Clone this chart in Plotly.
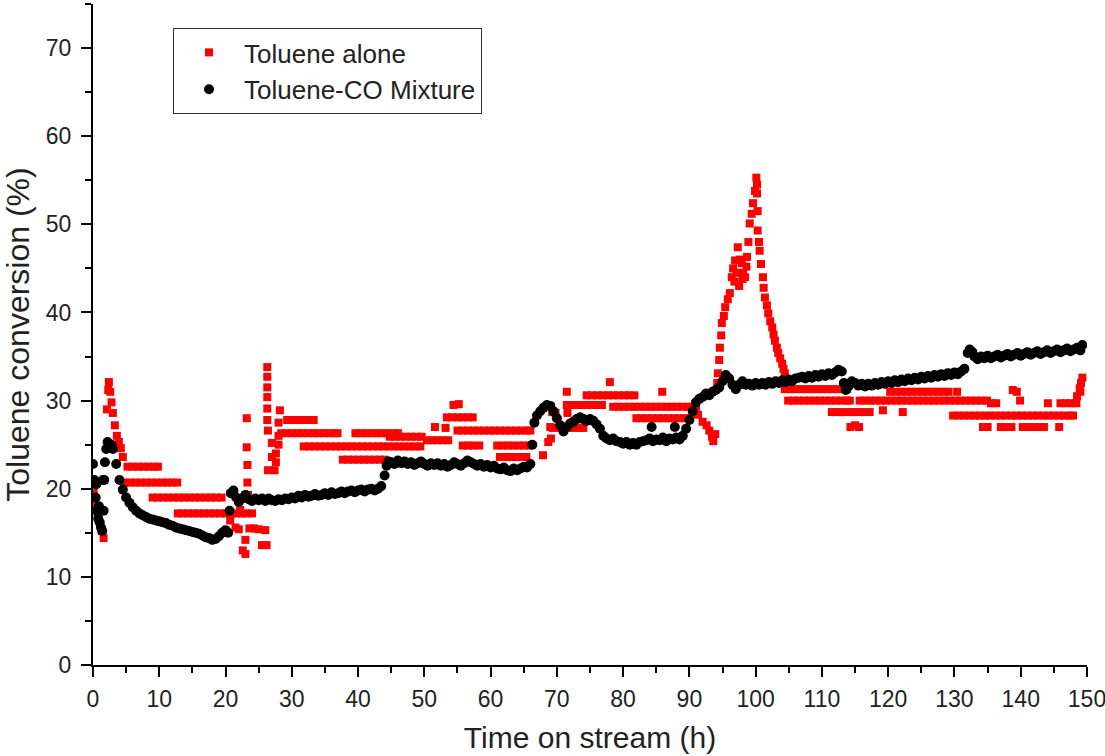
import plotly.graph_objects as go

# ---------------- data ----------------
# Toluene-CO Mixture (black circles)
black_time = [
    0.0, 0.2, 0.4, 0.6, 0.8, 1.0, 1.2, 1.4, 1.6, 1.7,
    1.8, 2.0, 2.2, 2.5, 3.0, 3.5, 4.0, 4.5, 5.0, 5.5,
    6.0, 6.5, 7.0, 7.5, 8.0, 8.5, 9.0, 9.5, 10.0, 10.5,
    11.0, 11.5, 12.0, 12.5, 13.0, 13.5, 14.0, 14.5, 15.0, 15.5,
    16.0, 16.5, 17.0, 17.5, 18.0, 18.5, 19.0, 19.5, 20.0, 20.4,
    20.6, 20.8, 21.2, 21.6, 22.0, 22.5, 23.0, 23.5, 24.0, 24.5,
    25.0, 25.5, 26.0, 26.5, 27.0, 27.5, 28.0, 28.5, 29.0, 29.5,
    30.0, 30.5, 31.0, 31.5, 32.0, 32.5, 33.0, 33.5, 34.0, 34.5,
    35.0, 35.5, 36.0, 36.5, 37.0, 37.5, 38.0, 38.5, 39.0, 39.5,
    40.0, 40.5, 41.0, 41.5, 42.0, 42.5, 43.0, 43.5, 44.0, 44.3,
    44.6, 45.0, 45.5, 46.0, 46.5, 47.0, 47.5, 48.0, 48.5, 49.0,
    49.5, 50.0, 50.5, 51.0, 51.5, 52.0, 52.5, 53.0, 53.5, 54.0,
    54.5, 55.0, 55.5, 56.0, 56.5, 57.0, 57.5, 58.0, 58.5, 59.0,
    59.5, 60.0, 60.5, 61.0, 61.5, 62.0, 62.5, 63.0, 63.5, 64.0,
    64.5, 65.0, 65.5, 66.0, 66.3, 66.6, 67.0, 67.5, 68.0, 68.5,
    69.0, 69.5, 70.0, 70.5, 71.0, 71.5, 72.0, 72.5, 73.0, 73.5,
    74.0, 74.5, 75.0, 75.5, 76.0, 76.5, 77.0, 77.5, 78.0, 78.5,
    79.0, 79.5, 80.0, 80.5, 81.0, 81.5, 82.0, 82.5, 83.0, 83.5,
    84.0, 84.5, 85.0, 85.5, 86.0, 86.5, 87.0, 87.5, 88.0, 88.5,
    89.0, 89.5, 90.0, 90.5, 91.0, 91.5, 92.0, 92.5, 93.0, 93.5,
    94.0, 94.5, 95.0, 95.5, 96.0, 96.5, 97.0, 97.5, 98.0, 98.5,
    99.0, 99.5, 100.0, 100.5, 101.0, 101.5, 102.0, 102.5, 103.0, 103.5,
    104.0, 104.5, 105.0, 105.5, 106.0, 106.5, 107.0, 107.5, 108.0, 108.5,
    109.0, 109.5, 110.0, 110.5, 111.0, 111.5, 112.0, 112.5, 113.0, 113.3,
    113.6, 114.0, 114.5, 115.0, 115.5, 116.0, 116.5, 117.0, 117.5, 118.0,
    118.5, 119.0, 119.5, 120.0, 120.5, 121.0, 121.5, 122.0, 122.5, 123.0,
    123.5, 124.0, 124.5, 125.0, 125.5, 126.0, 126.5, 127.0, 127.5, 128.0,
    128.5, 129.0, 129.5, 130.0, 130.5, 131.0, 131.5, 132.0, 132.3, 132.7,
    133.0, 133.5, 134.0, 134.5, 135.0, 135.5, 136.0, 136.5, 137.0, 137.5,
    138.0, 138.5, 139.0, 139.5, 140.0, 140.5, 141.0, 141.5, 142.0, 142.5,
    143.0, 143.5, 144.0, 144.5, 145.0, 145.5, 146.0, 146.5, 147.0, 147.5,
    148.0, 148.5, 149.0, 149.3, 84.3, 87.8, 1.5, 0.9, 0.5, 2.8,
]
black_conv = [
    22.8, 21.0, 19.0, 17.5, 16.6, 16.2, 15.6, 15.2, 17.5, 21.0,
    23.0, 24.5, 25.3, 25.0, 24.5, 22.8, 21.0, 19.9, 19.0, 18.4,
    17.9, 17.5, 17.2, 17.0, 16.8, 16.6, 16.5, 16.4, 16.3, 16.2,
    16.1, 15.9, 15.8, 15.6, 15.5, 15.4, 15.3, 15.2, 15.1, 15.0,
    14.9, 14.7, 14.5, 14.4, 14.2, 14.3, 14.6, 15.0, 15.3, 15.0,
    17.5, 19.5, 19.8, 19.0, 18.5, 18.9, 19.3, 18.8, 18.6, 18.9,
    18.7, 18.9, 18.6, 18.9, 18.7, 18.6, 18.8, 18.7, 18.9, 18.8,
    19.0, 18.9, 19.2, 19.0, 19.3, 19.1, 19.2, 19.4, 19.2, 19.3,
    19.5, 19.3, 19.6, 19.4, 19.5, 19.7, 19.5, 19.7, 19.8, 19.6,
    19.8, 19.9, 19.7, 19.9, 20.0, 19.8, 20.0, 20.3, 21.5, 22.6,
    23.1, 23.0, 22.8, 23.2, 22.9, 23.1, 22.8, 23.0, 22.7, 22.9,
    23.1, 22.8, 22.6, 22.9, 22.7, 22.9, 22.6, 22.8, 22.5, 22.7,
    23.0, 22.8, 22.6, 22.9, 23.2, 23.0, 22.8, 22.6, 22.8, 22.5,
    22.7, 22.4, 22.6, 22.3, 22.2, 22.4, 22.1, 22.0, 22.3, 22.1,
    22.3, 22.5, 22.4, 22.8, 25.0, 27.5, 28.3, 28.8, 29.2, 29.5,
    29.4, 28.8, 28.0, 27.2, 26.5, 27.0, 27.4, 27.6, 27.9, 28.1,
    27.9, 27.7, 27.9, 27.7, 27.3, 26.8, 26.0, 25.7, 25.5, 25.7,
    25.4, 25.3, 25.1, 25.3, 25.0, 25.2, 25.0, 25.3, 25.4, 25.5,
    25.7, 25.4, 25.6, 25.5, 25.8, 25.4, 25.7, 25.6, 25.8, 25.6,
    26.0, 26.8, 27.8, 28.8, 29.8, 30.2, 30.4, 30.8, 30.6, 31.0,
    31.2, 31.5, 32.2, 32.9, 32.5, 31.8, 31.3, 31.8, 32.2, 31.8,
    31.9, 31.7, 32.0, 31.8, 32.0, 31.8, 32.1, 31.9, 32.2, 32.0,
    32.3, 32.1, 32.4, 32.2, 32.5, 32.6, 32.7, 32.5, 32.8, 32.6,
    32.9, 32.7, 33.0, 32.8, 33.1, 32.9, 33.2, 33.5, 33.3, 32.0,
    31.2, 31.6, 32.2, 32.0, 31.7, 31.9, 31.6, 31.9, 31.7, 32.0,
    31.8, 32.1, 31.9, 32.2, 32.0, 32.3, 32.1, 32.4, 32.2, 32.5,
    32.3, 32.6, 32.4, 32.7, 32.5, 32.8, 32.6, 32.9, 32.7, 33.0,
    32.8, 33.1, 32.9, 33.2, 33.0, 33.3, 33.6, 35.4, 35.8, 35.5,
    35.0, 34.7, 35.0, 34.8, 35.1, 34.8, 35.0, 35.2, 34.9, 35.1,
    35.3, 35.0, 35.2, 35.4, 35.1, 35.3, 35.5, 35.2, 35.4, 35.6,
    35.3, 35.5, 35.7, 35.4, 35.6, 35.8, 35.5, 35.7, 35.9, 35.6,
    35.8, 36.0, 35.7, 36.3, 27.0, 27.0, 21.0, 18.0, 20.5, 25.0,
]

# Toluene alone (red squares)
red_time = [
    0.1, 0.3, 0.5, 0.7, 0.9, 1.1, 1.3, 1.6,
    2.1, 2.3, 2.4, 2.6, 2.8, 3.0, 3.3, 3.6, 3.9, 4.2, 4.5,
    5.2, 6.0, 6.8, 7.6, 8.4, 9.2, 9.8,
    4.8, 5.6, 6.4, 7.2, 8.0, 8.8, 9.6, 10.4, 11.2, 12.0, 12.7,
    9.0, 9.8, 10.6, 11.4, 12.2, 13.0, 13.8, 14.6, 15.4, 16.2, 17.0, 17.8, 18.6, 19.4,
    12.8, 13.6, 14.4, 15.2, 16.0, 16.8, 17.6, 18.4, 19.2, 20.0, 20.8, 21.6, 22.4, 23.2, 24.0,
    20.7, 21.5, 22.0, 22.2, 22.6, 23.0, 23.0, 23.2, 23.2, 23.3, 23.3, 23.4, 23.6, 24.3, 25.0, 25.5, 26.2, 26.0,
    26.3, 26.3, 26.3, 26.3, 26.3, 26.3, 26.4, 26.4, 27.0, 27.0, 27.6, 27.6, 27.4, 28.0, 28.0, 28.0, 28.2,
    29.3, 30.1, 30.9, 31.7, 32.5, 33.3,
    28.4, 29.2, 30.0, 30.8, 31.6, 32.4, 33.2, 34.0, 34.8, 35.6, 36.4, 36.9,
    39.6, 40.4, 41.2, 42.0, 42.8, 43.6, 44.4, 45.2, 46.0,
    31.8, 32.6, 33.4, 34.2, 35.0, 35.8, 36.6, 37.4, 38.2, 39.0, 39.8, 40.6,
    41.4, 42.2, 43.0, 43.8, 44.6, 45.4, 46.2, 47.0, 47.8, 48.6, 49.4,
    37.7, 38.5, 39.3, 40.1, 40.9, 41.7, 42.5, 43.3, 44.0,
    44.8, 45.6, 46.4, 47.2, 48.0, 48.8, 49.6,
    50.4, 51.2, 52.0, 52.8, 53.6, 51.6, 53.2,
    53.4, 54.2, 55.0, 55.8, 56.6, 57.3, 54.4, 55.2,
    55.0, 55.8, 56.6, 57.4, 58.2, 59.0, 59.8, 60.6, 61.4, 62.2, 63.0, 63.8, 64.6, 65.4, 66.0,
    55.8, 56.6, 57.4, 58.3, 61.0, 61.8, 62.6, 63.4, 64.2, 65.0, 65.8,
    61.4, 62.2, 63.0, 63.8, 64.6, 65.4,
    67.9, 68.7, 69.0, 69.3, 69.8, 71.5, 71.5, 71.6, 69.1,
    69.4, 70.2, 71.0, 71.8, 72.6, 73.4, 74.0,
    72.0, 72.8, 73.6, 74.4, 75.2, 76.0, 76.8,
    74.5, 75.3, 76.1, 76.9, 77.7, 78.5, 79.3, 80.1, 80.9, 81.7, 78.0,
    78.5, 79.3, 80.1, 80.9, 81.7, 82.5, 83.3, 84.1, 84.9, 85.7, 86.5, 87.3, 88.1, 88.9, 89.7, 90.5, 91.0,
    82.0, 82.8, 83.6, 84.4, 85.2, 86.0, 86.8, 87.6, 88.4, 89.2, 90.0, 85.9,
    90.5, 91.3, 92.0, 92.6, 93.0, 93.4, 93.6, 93.9,
    94.2, 94.3, 94.5, 94.6, 94.8, 94.9, 95.2, 95.4, 95.8, 96.1,
    96.4, 96.6, 96.9, 97.1, 97.3, 97.6, 97.9, 98.1, 98.4, 98.6,
    98.7, 98.9, 99.1, 99.4, 99.6, 99.9, 100.1, 100.2, 100.2, 100.3,
    100.3, 100.5, 100.6, 100.8, 101.1, 101.2, 101.4, 101.7, 101.9, 102.2,
    102.5, 102.7, 102.9, 103.2, 103.4, 103.7, 104.0, 104.2, 104.4, 104.6,
    96.8, 97.5, 98.0,
    104.4, 105.2, 106.0, 106.8, 107.6, 108.4, 109.2, 110.0, 110.8, 111.6, 112.4, 113.2, 113.8,
    104.9, 105.7, 106.5, 107.3, 108.1, 108.9, 109.7, 110.5, 111.3, 112.1, 112.9, 113.7, 114.2,
    115.7, 116.5, 117.3, 118.1, 118.9, 119.7, 120.5, 121.3, 122.1, 122.9, 123.7, 124.5, 125.3,
    126.1, 126.9, 127.7, 128.5, 129.3, 130.1, 130.9, 131.7, 132.5, 133.3, 134.1, 134.9,
    111.5, 112.3, 113.1, 113.9, 114.7, 115.5, 116.3, 117.2, 119.2, 122.2,
    114.3, 115.0, 115.6,
    120.3, 121.1, 121.9, 122.7, 123.5, 124.3, 125.1, 125.9, 126.7, 127.5, 128.3, 129.1, 130.4, 139.4, 138.8,
    135.5, 136.3, 139.9, 144.1, 146.0, 146.8, 147.6, 148.4,
    129.8, 130.6, 131.4, 132.2, 133.0, 133.8, 134.6, 135.4, 136.2, 137.0, 137.8, 138.6,
    139.4, 140.2, 141.0, 141.8, 142.6, 143.4, 144.2, 145.0, 145.8, 146.6, 147.4, 147.9,
    134.3, 135.0, 137.0, 137.8, 138.6, 140.3, 141.1, 141.9, 142.7, 143.5, 145.8,
    148.5, 148.9, 149.1, 149.3, 149.0,
]
red_conv = [
    19.6, 18.4, 17.6, 16.8, 17.9, 16.0, 15.2, 14.4,
    29.0, 31.2, 32.1, 31.0, 29.8, 28.6, 27.2, 26.0, 25.3, 24.6, 23.6,
    22.5, 22.5, 22.5, 22.5, 22.5, 22.5, 22.5,
    20.7, 20.7, 20.7, 20.7, 20.7, 20.7, 20.7, 20.7, 20.7, 20.7, 20.7,
    19.0, 19.0, 19.0, 19.0, 19.0, 19.0, 19.0, 19.0, 19.0, 19.0, 19.0, 19.0, 19.0, 19.0,
    17.2, 17.2, 17.2, 17.2, 17.2, 17.2, 17.2, 17.2, 17.2, 17.2, 17.2, 17.2, 17.2, 17.2, 17.2,
    16.4, 15.6, 15.4, 17.6, 13.0, 12.6, 14.2, 28.0, 24.7, 22.7, 20.7, 19.3, 15.5, 15.5, 15.4, 13.6, 13.6, 15.3,
    33.8, 32.7, 31.5, 30.4, 29.1, 27.8, 26.6, 22.1, 25.2, 23.6, 24.0, 23.0, 22.1, 27.5, 26.0, 25.0, 28.9,
    27.8, 27.8, 27.8, 27.8, 27.8, 27.8,
    26.3, 26.3, 26.3, 26.3, 26.3, 26.3, 26.3, 26.3, 26.3, 26.3, 26.3, 26.3,
    26.3, 26.3, 26.3, 26.3, 26.3, 26.3, 26.3, 26.3, 26.3,
    24.8, 24.8, 24.8, 24.8, 24.8, 24.8, 24.8, 24.8, 24.8, 24.8, 24.8, 24.8,
    24.8, 24.8, 24.8, 24.8, 24.8, 24.8, 24.8, 24.8, 24.8, 24.8, 24.8,
    23.3, 23.3, 23.3, 23.3, 23.3, 23.3, 23.3, 23.3, 23.3,
    25.9, 25.9, 25.9, 25.9, 25.9, 25.9, 25.9,
    25.5, 25.5, 25.5, 25.5, 25.5, 27.0, 26.9,
    28.1, 28.1, 28.1, 28.1, 28.1, 28.1, 29.5, 29.6,
    26.6, 26.6, 26.6, 26.6, 26.6, 26.6, 26.6, 26.6, 26.6, 26.6, 26.6, 26.6, 26.6, 26.6, 26.6,
    24.9, 24.9, 24.9, 24.9, 24.9, 24.9, 24.9, 24.9, 24.9, 24.9, 24.9,
    23.6, 23.6, 23.6, 23.6, 23.6, 23.6,
    23.8, 25.3, 27.0, 28.7, 28.6, 31.0, 29.5, 28.6, 25.7,
    26.9, 26.9, 26.9, 26.9, 26.9, 26.9, 26.9,
    29.5, 29.5, 29.5, 29.5, 29.5, 29.5, 29.5,
    30.6, 30.6, 30.6, 30.6, 30.6, 30.6, 30.6, 30.6, 30.6, 30.6, 32.1,
    29.3, 29.3, 29.3, 29.3, 29.3, 29.3, 29.3, 29.3, 29.3, 29.3, 29.3, 29.3, 29.3, 29.3, 29.3, 29.3, 29.3,
    28.0, 28.0, 28.0, 28.0, 28.0, 28.0, 28.0, 28.0, 28.0, 28.0, 28.0, 31.0,
    28.6, 28.4, 27.6, 27.2, 26.6, 25.9, 25.4, 26.2,
    32.0, 33.1, 34.6, 36.0, 37.4, 38.8, 39.6, 40.6, 41.5, 42.2,
    44.0, 45.0, 45.9, 44.5, 47.4, 46.0, 45.6, 44.5, 44.0, 45.2,
    46.3, 48.0, 50.1, 51.2, 52.4, 53.8, 55.3, 54.5, 53.5, 51.5,
    49.3, 48.0, 47.0, 45.5, 44.0, 42.8, 41.7, 40.8, 39.9, 39.0,
    38.3, 37.5, 36.8, 36.0, 35.4, 34.8, 34.2, 33.6, 33.1, 32.3,
    43.5, 43.0, 43.8,
    31.3, 31.3, 31.3, 31.3, 31.3, 31.3, 31.3, 31.3, 31.3, 31.3, 31.3, 31.3, 31.3,
    30.0, 30.0, 30.0, 30.0, 30.0, 30.0, 30.0, 30.0, 30.0, 30.0, 30.0, 30.0, 30.0,
    30.0, 30.0, 30.0, 30.0, 30.0, 30.0, 30.0, 30.0, 30.0, 30.0, 30.0, 30.0, 30.0,
    30.0, 30.0, 30.0, 30.0, 30.0, 30.0, 30.0, 30.0, 30.0, 30.0, 30.0, 30.0,
    28.7, 28.7, 28.7, 28.7, 28.7, 28.7, 28.7, 28.7, 28.9, 28.7,
    27.0, 27.2, 27.0,
    31.0, 31.0, 31.0, 31.0, 31.0, 31.0, 31.0, 31.0, 31.0, 31.0, 31.0, 31.0, 31.0, 31.0, 31.2,
    29.7, 29.7, 30.0, 29.7, 29.7, 29.7, 29.7, 29.7,
    28.3, 28.3, 28.3, 28.3, 28.3, 28.3, 28.3, 28.3, 28.3, 28.3, 28.3, 28.3,
    28.3, 28.3, 28.3, 28.3, 28.3, 28.3, 28.3, 28.3, 28.3, 28.3, 28.3, 28.3,
    27.0, 27.0, 27.0, 27.0, 27.0, 27.0, 27.0, 27.0, 27.0, 27.0, 27.0,
    30.5, 31.4, 32.0, 32.6, 31.0,
]

series_names = ["Toluene alone", "Toluene-CO Mixture"]
x_title = "Time on stream (h)"
y_title = "Toluene conversion (%)"
x_ticks = [0, 10, 20, 30, 40, 50, 60, 70, 80, 90, 100, 110, 120, 130, 140, 150]
y_ticks = [0, 10, 20, 30, 40, 50, 60, 70]

# ---------------- figure ----------------
FONT = "Liberation Sans, Arial, sans-serif"

fig = go.Figure()
fig.add_trace(go.Scatter(
    x=red_time, y=red_conv, mode="markers", name=series_names[0],
    marker=dict(symbol="square", size=8, color="#ff0000", line=dict(width=0)),
))
fig.add_trace(go.Scatter(
    x=black_time, y=black_conv, mode="markers", name=series_names[1],
    marker=dict(symbol="circle", size=10, color="#000000", line=dict(width=0)),
))

axis_common = dict(
    showline=True, linecolor="black", linewidth=2,
    ticks="outside", ticklen=10, tickwidth=2, tickcolor="black",
    showgrid=False, zeroline=False, mirror=False,
    tickfont=dict(family=FONT, size=23, color="#222"),
    automargin=False, ticklabeloverflow="allow",
)

fig.update_xaxes(
    range=[0, 150], tickvals=x_ticks,
    minor=dict(dtick=5, ticklen=6, tickwidth=2, tickcolor="black", ticks="outside"),
    title=dict(text=x_title, font=dict(family=FONT, size=30, color="#222"), standoff=16),
    ticklabelstandoff=2,
    **axis_common,
)
fig.update_yaxes(
    range=[0, 75], tickvals=y_ticks,
    minor=dict(dtick=5, ticklen=6, tickwidth=2, tickcolor="black", ticks="outside"),
    title=dict(text=y_title, font=dict(family=FONT, size=32, color="#222"), standoff=12),
    ticklabelstandoff=5,
    **axis_common,
)

fig.update_layout(
    width=1105, height=756,
    margin=dict(l=93, r=18, t=4, b=91),
    plot_bgcolor="white", paper_bgcolor="white",
    showlegend=True,
    legend=dict(
        x=0.0805, y=0.9637, xanchor="left", yanchor="top",
        bgcolor="white", bordercolor="#333", borderwidth=1,
        font=dict(family=FONT, size=26, color="#222"),
        itemwidth=60, tracegroupgap=0,
    ),
)

fig.write_html(
    "out.html",
    config={"displayModeBar": False},
    post_script="document.body.style.margin='0';document.body.style.overflow='hidden';",
)
